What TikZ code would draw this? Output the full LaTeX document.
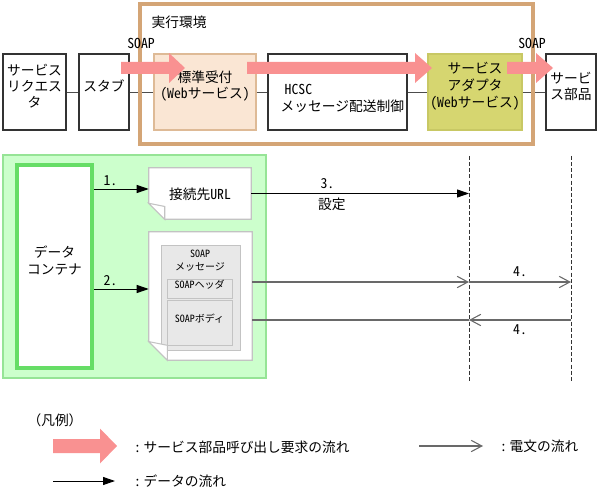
\documentclass[tikz,border=0pt]{standalone}
\usepackage{fontspec}
\usepackage{xcolor}
\usepackage{tikz}
\usetikzlibrary{positioning,calc,fit,arrows.meta}

\newfontfamily\jp{Noto Sans CJK JP}
\newfontfamily\jphw[CharacterWidth=Half]{Noto Sans CJK JP}
\newcommand\hw[1]{{\jphw #1}}

\definecolor{flowpink}{RGB}{249,145,145}
\definecolor{envtan}{RGB}{212,165,118}
\definecolor{peach}{RGB}{250,230,212}
\definecolor{peachline}{RGB}{222,186,150}
\definecolor{olive}{RGB}{214,214,112}
\definecolor{oliveline}{RGB}{200,200,100}
\definecolor{areagreen}{RGB}{204,255,204}
\definecolor{arealine}{RGB}{150,228,150}
\definecolor{contgreen}{RGB}{102,221,102}
\definecolor{msggray}{RGB}{105,105,105}
\definecolor{pageline}{RGB}{195,195,195}
\definecolor{partfill}{RGB}{232,232,232}

\tikzset{
  box/.style={draw=black!80, line width=0.8pt, fill=white, inner sep=0pt, align=center},
  envbox/.style={draw=envtan, line width=2.4pt, inner sep=0pt},
  area/.style={draw=arealine, line width=0.8pt, fill=areagreen, inner sep=0pt},
  contbox/.style={draw=contgreen, line width=3pt, fill=white, inner sep=0pt, align=center},
  pagebox/.style={inner sep=0pt},
  docpage/.style={draw=pageline, line width=0.8pt, fill=white},
  partbox/.style={draw=pageline, line width=0.6pt, fill=partfill, inner sep=0pt, align=center},
  link/.style={draw=black!70, line width=0.6pt},
  dataflow/.style={draw=black, line width=0.7pt, -{Triangle[length=9pt,width=6pt]}},
  msgflow/.style={draw=msggray, line width=1.3pt, -{Straight Barb[length=8pt,width=8.5pt,line width=0.8pt]}},
  msgline/.style={draw=msggray, line width=1.3pt},
  lifeline/.style={draw=black!80, line width=0.75pt, dash pattern=on 3pt off 1.6pt},
  small/.style={font=\jp\fontsize{7.5}{9.8}\selectfont}
}

% 太い矢印: 始点x, 頭の付け根x, 先端x, 中心y, 軸の半幅, 頭の半幅
\newcommand\fatarrow[6]{%
  \fill[flowpink] ({#1},{#4-#5}) -- ({#2},{#4-#5}) -- ({#2},{#4-#6}) -- ({#3},{#4})
    -- ({#2},{#4+#6}) -- ({#2},{#4+#5}) -- ({#1},{#4+#5}) -- cycle;}

% 左下を折った紙
\newcommand\foldpage[2]{%
  \filldraw[docpage] (#1.north west) -- (#1.north east) -- (#1.south east)
    -- ([xshift=#2]#1.south west) -- ([yshift=#2]#1.south west) -- cycle;}
\newcommand\pageflap[2]{%
  \filldraw[docpage] ([yshift=#2]#1.south west) -- ([xshift=#2,yshift=0.8*#2]#1.south west)
    -- ([xshift=#2]#1.south west) -- cycle;}

\begin{document}
\begin{tikzpicture}[x=0.75pt,y=-0.75pt,font=\jp\fontsize{10.3}{12}\selectfont]
  \useasboundingbox (0,0) rectangle (599,495);

  % 上段の部品
  \node[box, fit={(3,54) (66,130)}] (req) {サービス\\リクエス\\タ};
  \node[box, fit={(79,54) (129,130)}] (stub) {スタブ};
  \node[box, fill=peach, draw=peachline, fit={(154,54) (256,130)}] (std) {標準受付\\\hw{(Web}サービス\hw{)}};
  \node[box, fit={(268,54) (407,130)}] (hcsc) {};
  \node[anchor=west] (hcsc1) at (280,89) {\hw{HCSC}};
  \node[anchor=west] (hcsc2) at (276,106) {メッセージ配送制御};
  \node[box, fill=olive, draw=oliveline, fit={(428,54) (522,130)}, font=\jp\fontsize{10.3}{13}\selectfont] (adp) {サービス\\アダプタ\\\hw{(Web}サービス\hw{)}};
  \node[box, fit={(546,54) (596,130)}] (part) {サービ\\ス部品};

  \foreach \a/\b in {req/stub,stub/std,std/hcsc,hcsc/adp,adp/part}
    \draw[link] (\a) -- (\b);

  % 実行環境
  \node[envbox, fit={(140,4) (533,144)}] (env) {};
  \node[anchor=west] (envlbl) at (147,22) {実行環境};

  \node (soap1) at (141,43) {\hw{SOAP}};
  \node (soap2) at (532,43) {\hw{SOAP}};

  % 呼び出し要求の流れ
  \fatarrow{121}{169}{185}{68}{6}{15}
  \fatarrow{247}{415}{432}{68}{6}{15}
  \fatarrow{507}{536}{553}{68}{6}{15}

  % 下段
  \node[area, fit={(3,155) (266,378)}] (area) {};
  \node[contbox, fit={(17,165) (92,368)}, font=\jp\fontsize{10.3}{13}\selectfont] (cont) {データ\\コンテナ};

  \node[pagebox, fit={(149,168) (251,219)}] (url) {};
  \foldpage{url}{12pt}
  \pageflap{url}{12pt}
  \node (urltxt) at (200,194) {接続先\hw{URL}};

  \node[pagebox, fit={(149,232) (252,360)}] (soap) {};
  \foldpage{soap}{14pt}
  \node[partbox, fit={(161,245) (240,350)}] (msg) {};
  \node[small, align=center] (msgtxt) at (200,261) {\hw{SOAP}\\メッセージ};
  \node[partbox, small, fit={(167,279) (232,298)}] (hdr) {\hw{SOAP}ヘッダ};
  \node[partbox, small, fit={(167,300) (232,345)}] (body) {\hw{SOAP}ボディ};
  \pageflap{soap}{14pt}

  % 破線
  \coordinate (dA1) at (469,156); \coordinate (dA2) at (469,382);
  \coordinate (dB1) at (571,156); \coordinate (dB2) at (571,382);
  \draw[lifeline] (dA1) -- (dA2);
  \draw[lifeline] (dB1) -- (dB2);

  \coordinate (r1) at (0,189);
  \coordinate (r2) at (0,289);
  \coordinate (m1) at (0,282);
  \coordinate (m2) at (0,320);

  \draw[dataflow] (cont.east |- r1) -- (url.west |- r1) node[pos=0.3, above, inner sep=2pt] {\hw{1.}};
  \draw[dataflow] (cont.east |- r2) -- (soap.west |- r2) node[pos=0.3, above, inner sep=2pt] {\hw{2.}};
  \draw[dataflow] (url.east) -- (url.east -| dA1)
    node[pos=0.35, above, inner sep=3pt] {\hw{3.}}
    node[pos=0.37, below, inner sep=3pt] {設定};

  \draw[msgflow] (soap.east |- m1) -- (dA1 |- m1);
  \draw[msgflow] (dA1 |- m1) -- (dB1 |- m1) node[midway, above, inner sep=3pt] {\hw{4.}};
  \draw[msgflow] (dB1 |- m2) -- (dA1 |- m2) node[midway, below, inner sep=3pt] {\hw{4.}};
  \draw[msgline] (dA1 |- m2) -- (soap.east |- m2);

  % 凡例
  \node (legend) at (55,420) {（凡例）};
  \fatarrow{53}{100}{117}{446}{7}{17.5}
  \node[anchor=west] (lgreq) at (131,447) {: サービス部品呼び出し要求の流れ};
  \coordinate (lg1a) at (419,446); \coordinate (lg1b) at (483,446);
  \draw[msgflow] (lg1a) -- (lg1b);
  \node[anchor=west] (lgmsg) at (497,446) {: 電文の流れ};
  \coordinate (lg2a) at (53,481); \coordinate (lg2b) at (115,481);
  \draw[dataflow] (lg2a) -- (lg2b);
  \node[anchor=west] (lgdata) at (131,481) {: データの流れ};
\end{tikzpicture}
\end{document}
